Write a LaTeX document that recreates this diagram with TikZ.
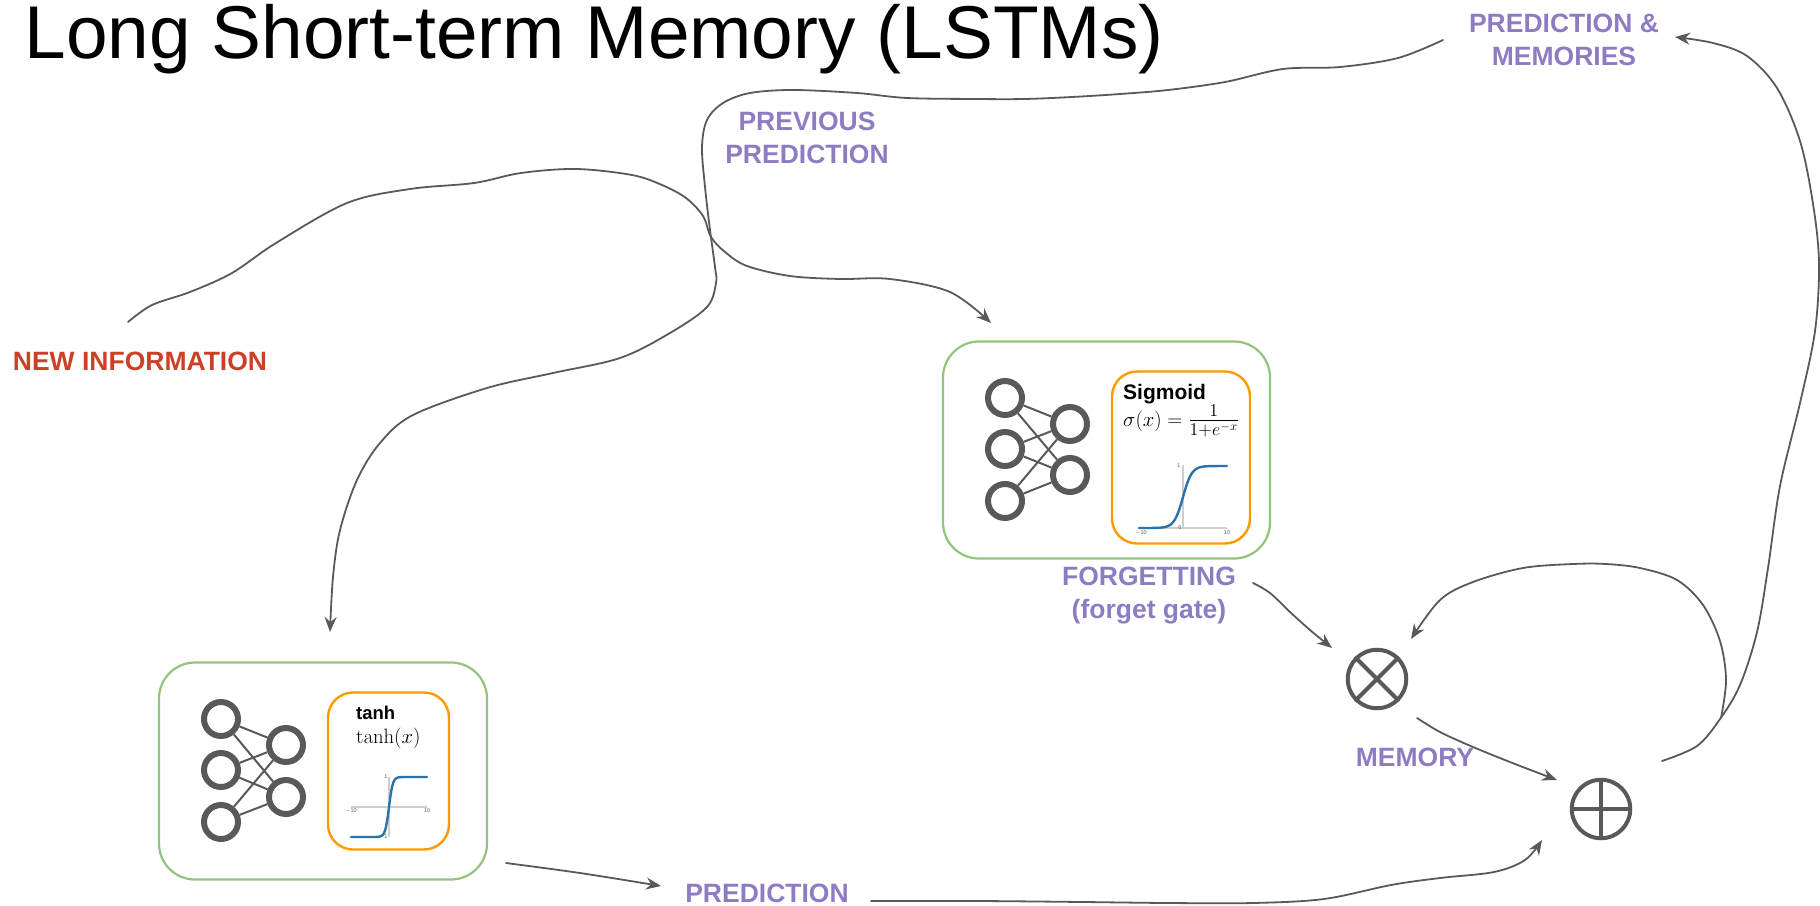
\documentclass[tikz,border=0pt]{standalone}
\usepackage[no-math]{fontspec}
\setmainfont{Liberation Sans}
\usetikzlibrary{arrows.meta}
\definecolor{ink}{HTML}{595959}
\definecolor{lab}{HTML}{8E7CC3}
\definecolor{redlab}{HTML}{CC4125}
\definecolor{gbox}{HTML}{93C47D}
\definecolor{obox}{HTML}{FF9900}
\definecolor{curve}{HTML}{2B72A8}
\definecolor{axisg}{HTML}{CFCFCF}
\tikzset{
  conn/.style={draw=ink,line width=1.8pt,line cap=round,smooth,tension=0.55},
  tip/.style={-{Stealth[length=15pt,width=12pt,inset=5pt]}},
  lbl/.style={text=lab,font=\fontsize{26.5}{32.5}\selectfont\bfseries,align=center,inner sep=0pt},
  greenbox/.style={draw=gbox,line width=2.2pt,rounded corners=36pt,inner sep=0pt},
  orangebox/.style={draw=obox,line width=2.4pt,rounded corners=25pt,inner sep=0pt},
  neuron/.style={circle,draw=ink,line width=6pt,minimum size=34pt,inner sep=0pt},
  syn/.style={draw=ink,line width=2pt},
  opsym/.style={circle,draw=ink,line width=4pt,minimum size=58.5pt,inner sep=0pt},
  oplines/.style={draw=ink,line width=4pt},
  tick/.style={text=ink,font=\fontsize{5.5}{6}\selectfont,inner sep=0pt},
  axisl/.style={draw=axisg,line width=1.4pt},
  curvel/.style={draw=curve,line width=2.4pt,line cap=round},
  head/.style={font=\fontsize{21}{24}\selectfont\bfseries,inner sep=0pt,anchor=base west},
  form/.style={inner sep=0pt,anchor=base west}
}
\begin{document}
\begin{tikzpicture}[x=1pt,y=-1pt]
\useasboundingbox (0,0) rectangle (1820,905);
\node[inner sep=0pt,anchor=base,font=\fontsize{74.8}{80}\selectfont] (title) at (594,58) {Long Short-term Memory (LSTMs)};

% forget box
\node[greenbox,minimum width=327pt,minimum height=217pt] (gb1) at (1106.5,450) {};
\node[orangebox,minimum width=138pt,minimum height=172pt] (ob1) at (1181,457.5) {};
\foreach \n/\x/\y in {fa/1005/398,fb/1005/449,fc/1005/501,fd/1070/424,fe/1070/475}
  \node[neuron] (\n) at (\x,\y) {};
\foreach \a in {fa,fb,fc} \foreach \b in {fd,fe} \draw[syn] (\a) -- (\b);
\node[head] (sighead) at (1123,399) {Sigmoid};
\node[form,font=\fontsize{20}{22}\selectfont] (sigform) at (1123,426.5) {$\sigma(x)=\scalebox{1.25}{$\frac{1}{1+e^{-x}}$}$};
\coordinate (s1) at (1139,528); \coordinate (s2) at (1227,528);
\coordinate (s3) at (1183,465);
\draw[axisl] (s1) -- (s2);
\draw[axisl] (s3) -- (1183,528);
\draw[curvel] (1139,528) -- plot[domain=-7:7,samples=60,smooth] ({1183+4.4*\x},{528-62/(1+exp(-1*\x))}) -- (1227,466);
\node[tick] (s10a) at (1141,533) {$-$10};
\node[tick] (s10b) at (1227,533) {10};
\node[tick] (s0) at (1180,528) {0};
\node[tick] (s11) at (1179,466) {1};

% tanh box
\node[greenbox,minimum width=328pt,minimum height=217pt] (gb2) at (323,771) {};
\node[orangebox,minimum width=121pt,minimum height=157pt] (ob2) at (388.5,771) {};
\foreach \n/\x/\y in {ta/221/719,tb/221/770,tc/221/822,td/286/745,te/286/797}
  \node[neuron] (\n) at (\x,\y) {};
\foreach \a in {ta,tb,tc} \foreach \b in {td,te} \draw[syn] (\a) -- (\b);
\node[head,font=\fontsize{18.5}{22}\selectfont\bfseries] (tanhhead) at (356,719) {tanh};
\node[form,font=\fontsize{19.5}{22}\selectfont] (tanhform) at (356,743) {$\tanh(x)$};
\coordinate (t1) at (351,807); \coordinate (t2) at (427,807);
\coordinate (t3) at (389,777);
\draw[axisl] (t1) -- (t2);
\draw[axisl] (t3) -- (389,837);
\draw[curvel] (351,837) -- plot[domain=-4:4,samples=60,smooth] ({389+3.8*\x},{807-30*tanh(\x)}) -- (427,777);
\node[tick] (t10a) at (351,811) {$-$10};
\node[tick] (t10b) at (427,811) {10};
\node[tick] (t11) at (386,777) {1};
\node[tick] (t12) at (386,837) {1};

% operators
\node[opsym] (ot) at (1377,679) {};
\draw[oplines] (ot.45) -- (ot.225);
\draw[oplines] (ot.135) -- (ot.315);
\node[opsym] (op) at (1601,809) {};
\draw[oplines] (op.north) -- (op.south);
\draw[oplines] (op.west) -- (op.east);

% connector ends
\coordinate (a1) at (128,322);
\coordinate (a2) at (991,323);
\coordinate (b1) at (1443,40);
\coordinate (b2) at (330,632);
\coordinate (c1) at (506,863);
\coordinate (c2) at (661,886);
\coordinate (d1) at (871,901);
\coordinate (d2) at (1542,840);
\coordinate (e1) at (1253,583);
\coordinate (e2) at (1332,648);
\coordinate (f1) at (1417,718);
\coordinate (f2) at (1557,780);
\coordinate (g1) at (1721,718);
\coordinate (g2) at (1411,639);
\coordinate (h1) at (1662,761);
\coordinate (h2) at (1675,37);

\draw[conn,tip] plot coordinates {(a1) (152,305) (190,292) (232,273) (276,243) (347,203) (410,189) (474,183) (521,173) (576,169) (632,175) (662,185) (686,198) (703,216) (711,237) (725,252) (747,266) (790,276) (840,279) (890,279) (950,292) (a2)};
\draw[conn,tip] plot coordinates {(b1) (1398,58) (1340,67) (1283,69) (1225,82) (1168,90) (1120,94) (1072,97) (1024,99) (977,99) (907,98) (857,93) (793,90) (750,93) (723,103) (707,120) (702,147) (705,187) (710,230) (715,267) (716,283) (707,307) (670,333) (620,358) (553,373) (487,388) (413,415) (380,443) (357,480) (340,530) (333,577) (b2)};
\draw[conn,tip] plot coordinates {(c1) (580,873) (c2)};
\draw[conn,tip] plot coordinates {(d1) (977,901) (1083,902) (1168,903) (1253,903) (1324,899) (1391,885) (1440,878) (1494,872) (1525,860) (d2)};
\draw[conn,tip] plot coordinates {(e1) (1270,593) (1290,612) (1310,630) (e2)};
\draw[conn,tip] plot coordinates {(f1) (1440,732) (1473,747) (1515,764) (f2)};
\draw[conn,tip] plot coordinates {(g1) (1726,680) (1720,641) (1703,605) (1677,580) (1640,568) (1606,564) (1573,564) (1523,568) (1473,582) (1440,600) (g2)};
\draw[conn,tip] plot coordinates {(h1) (1697,746) (1720,719) (1740,685) (1757,632) (1768,568) (1780,486) (1800,403) (1815,331) (1819,263) (1813,204) (1800,141) (1777,88) (1747,56) (1713,43) (h2)};

% labels
\node[lbl,text=redlab] (newinfo) at (140,361) {NEW INFORMATION};
\node[lbl] (prevpred) at (807,138) {PREVIOUS\\PREDICTION};
\node[lbl] (forget) at (1149,595.5) {FORGETTING\\(forget gate)};
\node[lbl] (memory) at (1415,757) {MEMORY};
\node[lbl] (pred) at (767,893) {PREDICTION};
\node[lbl] (predmem) at (1564,40) {PREDICTION \&\\MEMORIES};
\end{tikzpicture}
\end{document}
